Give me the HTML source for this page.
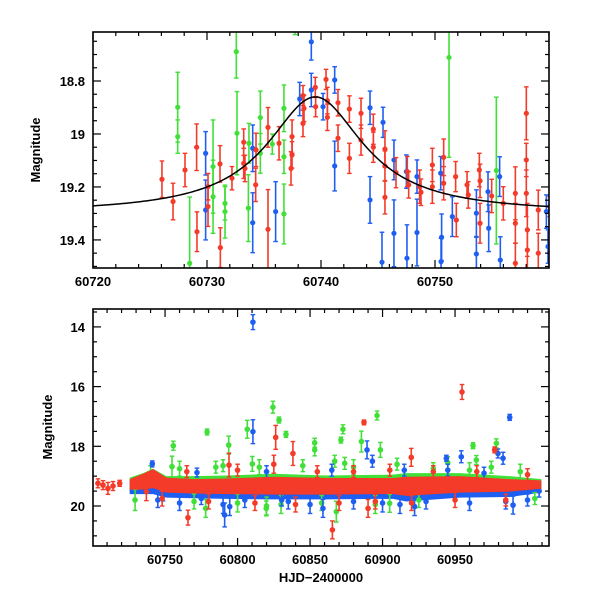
<!DOCTYPE html>
<html><head><meta charset="utf-8">
<style>
html,body{margin:0;padding:0;background:#fff;}
svg{display:block;font-family:"Liberation Sans",sans-serif;}
</style></head>
<body>
<svg id="chart" width="600" height="600" viewBox="0 0 600 600" xmlns="http://www.w3.org/2000/svg"></svg>
<script>
// ---------- TOP PANEL DATA ----------
const topRedT=[60726.05,60727.02,60728.07,60729.09,60729.12,60730.09,60730.09,60731.14,60731.17,60732.19,60733.22,60733.22,60733.33,60734.27,60734.30,60735.35,60735.35,60736.32,60737.46,60737.37,60737.46,60738.42,60738.42,60738.51,60739.50,60739.53,60740.44,60740.56,60740.56,60741.49,60741.49,60742.49,60742.49,60743.51,60743.51,60744.59,60744.59,60745.61,60745.61,60745.61,60746.58,60747.57,60747.69,60748.65,60748.77,60749.77,60749.77,60750.76,60750.76,60751.81,60751.87,60752.81,60752.92,60753.89,60753.95,60753.95,60754.97,60755.99,60757.05,60757.05,60757.05,60758.01,60758.01,60758.01,60758.10,60758.10,60759.06,60759.06,60760.06];
const topRedM=[19.171,19.255,19.136,19.050,19.369,19.199,19.274,19.113,19.429,19.167,19.031,19.111,19.130,19.192,19.060,18.975,19.360,19.035,19.010,19.130,19.079,18.960,18.855,18.903,18.824,18.897,18.794,18.874,18.937,18.882,19.016,18.906,19.092,18.922,19.023,18.982,19.050,19.057,19.239,19.121,19.146,19.142,19.192,19.199,19.220,19.117,19.199,19.088,19.186,19.161,19.325,19.192,19.230,19.136,19.177,19.337,19.234,19.262,19.224,19.337,19.488,18.922,19.098,19.224,19.362,19.438,19.287,19.450,19.274];
const topRedE=[0.069,0.069,0.063,0.088,0.075,0.05,0.075,0.069,0.075,0.044,0.05,0.057,0.05,0.063,0.063,0.075,0.15,0.063,0.063,0.063,0.05,0.05,0.038,0.05,0.038,0.038,0.038,0.05,0.05,0.05,0.05,0.05,0.057,0.057,0.057,0.057,0.057,0.069,0.063,0.057,0.057,0.057,0.05,0.063,0.05,0.063,0.063,0.069,0.063,0.057,0.063,0.05,0.05,0.063,0.063,0.075,0.063,0.063,0.1,0.075,0.075,0.1,0.063,0.088,0.1,0.075,0.075,0.075,0.038];
const topBlueT=[60739.15,60739.15,60738.13,60740.18,60741.20,60741.20,60744.30,60744.30,60745.44,60745.35,60746.40,60746.40,60747.49,60747.54,60748.42,60748.42,60750.50,60750.58,60750.53,60751.52,60753.63,60753.63,60754.65,60754.71,60755.67,60755.73,60759.77,60759.91,60729.88,60729.88,60734.01,60734.01,60736.02];
const topBlueM=[18.652,18.834,18.868,18.897,18.796,19.121,18.901,19.249,18.956,19.484,19.098,19.375,19.142,19.469,19.161,19.372,19.148,19.390,19.482,19.312,19.299,19.453,19.218,19.356,19.161,19.476,19.293,19.425,19.073,19.287,19.054,19.335,19.293];
const topBlueE=[0.069,0.063,0.063,0.05,0.05,0.094,0.063,0.088,0.057,0.113,0.075,0.126,0.063,0.126,0.063,0.126,0.063,0.088,0.088,0.075,0.088,0.063,0.075,0.088,0.075,0.088,0.063,0.063,0.082,0.113,0.088,0.113,0.113];
const topGreenT=[60727.43,60727.43,60728.48,60732.57,60732.63,60733.68,60733.63,60734.68,60734.68,60735.73,60736.75,60736.75,60736.75,60730.53,60730.53,60731.58,60731.58,60751.23,60755.38,60737.72];
const topGreenM=[18.899,19.010,19.488,18.689,18.997,19.035,19.280,19.073,18.938,19.038,18.903,19.086,19.302,19.123,19.237,19.262,19.293,18.711,19.138,18.595];
const topGreenE=[0.132,0.063,0.25,0.1,0.157,0.075,0.126,0.075,0.1,0.038,0.088,0.063,0.113,0.176,0.138,0.063,0.1,0.377,0.277,0.03];
const fitBase=19.30, fitAmp=0.44, fitT0=60739.5, fitWidth=5.15;
const topXTicks=[60720,60730,60740,60750];
const topYTicks=[18.8,19,19.2,19.4];

// ---------- BOTTOM PANEL DATA ----------
const bandT=[60725.6,60734.8,60741.7,60750.9,60769.3,60792.3,60824.4,60861.2,60907.2,60916.4,60953.2,60987.7,61009.5];
const redBandHi=[19.10,18.92,18.76,19.05,19.10,19.08,19.02,19.06,19.06,19.02,19.00,19.10,19.14];
const redBandLo=[19.45,19.45,19.40,19.55,19.58,19.60,19.62,19.62,19.60,19.66,19.55,19.52,19.42];
const greenBandHi=[19.05,18.90,18.75,19.00,19.00,18.98,18.92,18.98,18.95,18.90,18.90,19.00,19.10];
const greenBandLo=[19.55,19.55,19.50,19.65,19.68,19.70,19.72,19.72,19.70,19.76,19.65,19.62,19.50];
const blueBandHi=[19.15,19.05,18.95,19.10,19.15,19.12,19.08,19.10,19.08,19.05,19.05,19.15,19.15];
const blueBandLo=[19.60,19.60,19.60,19.72,19.74,19.76,19.78,19.78,19.76,19.85,19.72,19.70,19.55];
const botGreenT=[60824.4,60806.7,60779.0,60828.6,60896.2,60872.7,60871.3,60853.2,60853.2,60898.5,60962.4,60978.5,60833.4,60755.7,60754.8,60885.4,60793.9,60729.3,60778.0,60868.1,60819.8,60904.9,60964.7,60873.9,60810.2,60760,60770,60785,60800,60815,60830,60845,60858,60880,60895,60910,60925,60935,60945,60960,60975,60995,61005,60740,60790,60820,60867];
const botGreenM=[16.69,17.43,17.52,17.12,16.97,17.43,17.79,17.88,18.12,18.12,17.98,17.90,17.60,17.98,18.68,17.84,17.96,19.80,20.08,20.19,20.08,19.91,18.46,18.57,18.59,18.75,19.85,18.70,19.90,18.70,19.95,18.65,19.90,18.70,19.95,18.60,19.80,18.75,18.55,18.80,18.70,18.85,19.75,18.90,18.65,20.00,18.50];
const botGreenE=[0.2,0.3,0.1,0.1,0.15,0.15,0.1,0.15,0.2,0.25,0.1,0.15,0.1,0.15,0.35,0.35,0.3,0.35,0.3,0.35,0.25,0.3,0.15,0.2,0.25,0.25,0.25,0.2,0.3,0.25,0.3,0.2,0.25,0.25,0.3,0.2,0.25,0.2,0.2,0.25,0.2,0.25,0.2,0.25,0.2,0.3,0.2];
const botBlueT=[60810.6,60810.6,60987.7,60889.3,60954.3,60944.0,60791.1,60922.1,60990.0,60772.0,60741.2,60748.6,60858.9,60830.4,60794.6,60983.1,60979.6,60745,60760,60775,60790,60805,60820,60835,60850,60865,60880,60893,60900,60912,60915,60930,60945,60960,60970,60985,61000,61008];
const botBlueM=[13.84,17.51,17.03,18.12,18.35,18.40,20.30,20.02,19.97,18.88,18.59,19.63,20.08,19.80,20.02,18.40,18.24,19.80,19.90,19.75,19.95,19.80,18.85,19.85,19.95,18.80,19.85,18.50,19.90,19.95,18.80,19.85,18.80,19.90,18.90,19.85,19.80,19.50];
const botBlueE=[0.25,0.4,0.1,0.3,0.2,0.1,0.4,0.3,0.3,0.15,0.1,0.2,0.3,0.2,0.3,0.2,0.15,0.25,0.25,0.2,0.3,0.25,0.2,0.25,0.3,0.2,0.25,0.2,0.3,0.3,0.2,0.25,0.2,0.25,0.2,0.25,0.2,0.2];
const botRedT=[60954.8,60887.2,60826.3,60765.8,60865.4,60977.3,60919.8,60838.2,60794.1,60890.0,60737.1,60703.7,60707.2,60710.6,60714.1,60718.7,60748,60765,60780,60800,60812,60825,60840,60855,60870,60880,60895,60905,60920,60935,60950,60965,60985,61000];
const botRedM=[16.18,17.20,17.70,20.39,20.80,18.12,18.37,18.24,18.63,20.08,19.52,19.24,19.30,19.41,19.33,19.24,19.75,18.85,19.85,18.80,19.90,18.60,19.95,18.85,19.90,18.85,19.85,18.80,19.90,18.85,19.80,18.85,19.80,18.95];
const botRedE=[0.25,0.08,0.4,0.25,0.3,0.1,0.3,0.4,0.4,0.3,0.3,0.15,0.15,0.2,0.15,0.1,0.25,0.2,0.25,0.2,0.25,0.3,0.25,0.2,0.25,0.2,0.25,0.2,0.25,0.2,0.25,0.2,0.2,0.2];
const botXTicks=[60750,60800,60850,60900,60950];
const botYTicks=[14,16,18,20];

const RED='#f43a28', BLUE='#1e5ef0', GREEN='#40e038';
const NS='http://www.w3.org/2000/svg';
const svg=document.getElementById('chart');
function mk(tag,attrs,parent){const e=document.createElementNS(NS,tag);for(const k in attrs)e.setAttribute(k,attrs[k]);(parent||svg).appendChild(e);return e;}

function panel(name,px0,py0,px1,py1,xmin,xmax,ymin,ymax){
  const g=mk('g',{});
  
  
  const cid='clip-'+name;
  const cp=mk('clipPath',{id:cid},g);mk('rect',{x:px0,y:py0,width:px1-px0,height:py1-py0},cp);
  const plot=mk('g',{'clip-path':'url(#'+cid+')'},g);
  return {g,plot,sx:t=>px0+(t-xmin)/(xmax-xmin)*(px1-px0),sy:m=>py0+(m-ymin)/(ymax-ymin)*(py1-py0),px0,py0,px1,py1,xmin,xmax,ymin,ymax};
}
function points(P,T,M,E,color,name,r){
  const g=mk('g',{},P.plot);
  
  
  for(let i=0;i<T.length;i++){
    const x=P.sx(T[i]),y=P.sy(M[i]),y1=P.sy(M[i]-E[i]),y2=P.sy(M[i]+E[i]);
    mk('line',{x1:x,y1:y1,x2:x,y2:y2,stroke:color,'stroke-width':1.6},g);
    mk('line',{x1:x-2.3,y1:y1,x2:x+2.3,y2:y1,stroke:color,'stroke-width':1.4},g);
    mk('line',{x1:x-2.3,y1:y2,x2:x+2.3,y2:y2,stroke:color,'stroke-width':1.4},g);
    const c=mk('circle',{cx:x,cy:y,r:r,fill:color},g);
    
    
  }
}
function band(P,T,H,L,color,name){
  let d='';
  for(let i=0;i<T.length;i++)d+=(i?'L':'M')+P.sx(T[i])+','+P.sy(H[i]);
  for(let i=T.length-1;i>=0;i--)d+='L'+P.sx(T[i])+','+P.sy(L[i]);
  const p=mk('path',{d:d+'Z',fill:color},P.plot);
  
  
}
function axes(P,xt,xminor,yt,yminor,xfmt,yfmt,showXLabels){
  const g=mk('g',{},P.g);
  
  
  mk('rect',{x:P.px0,y:P.py0,width:P.px1-P.px0,height:P.py1-P.py0,fill:'none',stroke:'#000','stroke-width':1.6},g);
  const st={stroke:'#000','stroke-width':1.2};
  for(let t=Math.ceil(P.xmin/xminor)*xminor;t<=P.xmax;t+=xminor){
    const x=P.sx(t);const maj=Math.abs(t/xt[1]-Math.round(t/xt[1]))<1e-6 || xt.some(v=>Math.abs(v-t)<1e-6);
    const L=maj?8:4;
    mk('line',Object.assign({x1:x,y1:P.py1,x2:x,y2:P.py1-L},st),g);
    mk('line',Object.assign({x1:x,y1:P.py0,x2:x,y2:P.py0+L},st),g);
  }
  if(showXLabels) xt.forEach(t=>{const e=mk('text',{x:P.sx(t),y:P.py1+18,'text-anchor':'middle','font-size':13,'font-weight':'bold'},g);e.textContent=xfmt(t);});
  const y0=Math.ceil(P.ymin/yminor-1e-6)*yminor;
  for(let m=y0;m<=P.ymax+1e-9;m+=yminor){
    const y=P.sy(m);const maj=yt.some(v=>Math.abs(v-m)<1e-6);const L=maj?8:4;
    mk('line',Object.assign({x1:P.px0,y1:y,x2:P.px0+L,y2:y},st),g);
    mk('line',Object.assign({x1:P.px1,y1:y,x2:P.px1-L,y2:y},st),g);
  }
  yt.forEach(m=>{const e=mk('text',{x:P.px0-8,y:P.sy(m)+5,'text-anchor':'end','font-size':13,'font-weight':'bold'},g);e.textContent=yfmt(m);});
}

// TOP
const A=panel('top-panel',93,32,549,268,60720,60760,18.615,19.506);
points(A,topGreenT,topGreenM,topGreenE,GREEN,'top-green-series',2.6);
points(A,topBlueT,topBlueM,topBlueE,BLUE,'top-blue-series',2.6);
points(A,topRedT,topRedM,topRedE,RED,'top-red-series',2.6);
{let d='';for(let t=A.xmin;t<=A.xmax+1e-9;t+=0.2){const m=fitBase-fitAmp/(1+Math.pow((t-fitT0)/fitWidth,2));d+=(d?'L':'M')+A.sx(t).toFixed(2)+','+A.sy(m).toFixed(2);}
 const p=mk('path',{d:d,fill:'none',stroke:'#000','stroke-width':1.5},A.plot);}
axes(A,topXTicks,2,topYTicks,0.05,t=>String(t),m=>String(Number(m.toFixed(1))),true);

// BOTTOM
const B=panel('bottom-panel',93,309,549,546,60700.3,61014.8,13.4,21.34);
band(B,bandT,greenBandHi,greenBandLo,GREEN,'green-band');
band(B,bandT,blueBandHi,blueBandLo,BLUE,'blue-band');
points(B,botGreenT,botGreenM,botGreenE,GREEN,'bottom-green-series',2.8);
points(B,botBlueT,botBlueM,botBlueE,BLUE,'bottom-blue-series',2.8);
band(B,bandT,redBandHi,redBandLo,RED,'red-band');
points(B,botRedT,botRedM,botRedE,RED,'bottom-red-series',2.8);
axes(B,botXTicks,10,botYTicks,0.5,t=>String(t),m=>String(m),true);

function label(txt,x,y,rot,name){const e=mk('text',{x:x,y:y,'text-anchor':'middle','font-size':13,'font-weight':'bold',transform:rot?`rotate(-90 ${x} ${y})`:''});e.textContent=txt;}
label('Magnitude',40,150,true,'top-y-axis-title');
label('Magnitude',52,427,true,'bottom-y-axis-title');
label('HJD\u22122400000',321,582,false,'x-axis-title');
</script>
</body></html>
